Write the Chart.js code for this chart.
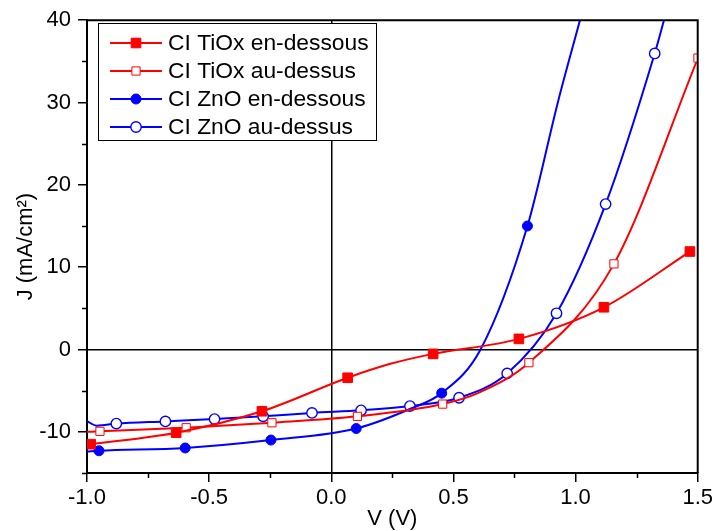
<!DOCTYPE html>
<html>
<head>
<meta charset="utf-8">
<script src="https://cdn.jsdelivr.net/npm/chart.js@4/dist/chart.umd.min.js"></script>
<style>
  html, body { margin: 0; padding: 0; background: #fff; }
</style>
</head>
<body>
<canvas id="chartJV" width="716" height="531"></canvas>
<script>
const seriesNames = ['CI TiOx en-dessous', 'CI TiOx au-dessus', 'CI ZnO en-dessous', 'CI ZnO au-dessus'];

const tioxBelowV = [-0.985, -0.635, -0.284, 0.067, 0.242, 0.417, 0.768, 1.116, 1.468];
const tioxBelowJ = [-11.5, -10.1, -7.5, -3.43, -1.74, -0.53, 1.29, 5.13, 11.9];

const tioxAboveV = [-1.0, -0.947, -0.594, -0.243, 0.107, 0.456, 0.6, 0.809, 1.157, 1.501];
const tioxAboveJ = [-10.0, -9.94, -9.5, -8.9, -8.12, -6.63, -5.3, -1.6, 10.4, 35.4];

const znoBelowV = [-1.0, -0.951, -0.598, -0.247, 0.102, 0.324, 0.452, 0.611, 0.803, 0.929, 1.018];
const znoBelowJ = [-12.4, -12.3, -11.96, -11.0, -9.6, -7.2, -5.3, 0.0, 15.0, 30.2, 40.0];

const znoAboveV = [-1.0, -0.96, -0.88, -0.679, -0.478, -0.279, -0.079, 0.122, 0.322, 0.523, 0.72, 0.922, 1.123, 1.324, 1.362];
const znoAboveJ = [-8.7, -9.25, -9.0, -8.73, -8.45, -8.12, -7.7, -7.39, -6.87, -5.86, -2.9, 4.4, 17.66, 35.96, 40.0];

const xMajorTicks = [-1.0, -0.5, 0.0, 0.5, 1.0, 1.5];
const yMajorTicks = [-10, 0, 10, 20, 30, 40];

// points portant un symbole (indices)
const tioxBelowMarks = [0, 1, 2, 3, 5, 6, 7, 8];
const tioxAboveMarks = [1, 2, 3, 4, 5, 7, 8, 9];
const znoBelowMarks = [1, 2, 3, 4, 6, 8];
const znoAboveMarks = [2, 3, 4, 5, 6, 7, 8, 9, 10, 11, 12, 13];

const RED = '#ff0000';
const BLUE = '#0000ff';
const FONT = 'Arial, "Liberation Sans", sans-serif';

const styles = [
    { color: RED, shape: 'rect', filled: true, radius: 6.8, border: 1 },
    { color: RED, shape: 'rect', filled: false, radius: 5.8, border: 1 },
    { color: BLUE, shape: 'circle', filled: true, radius: 5, border: 1 },
    { color: BLUE, shape: 'circle', filled: false, radius: 5.2, border: 1.4 }
];

function toPoints(vs, js) {
    return vs.map((v, i) => ({ x: v, y: js[i] }));
}

function makeDataset(index, vs, js, marks) {
    const st = styles[index];
    return {
        label: seriesNames[index],
        data: toPoints(vs, js),
        borderColor: st.color,
        borderWidth: 2,
        cubicInterpolationMode: 'monotone',
        pointStyle: st.shape,
        pointRadius: ctx => marks.includes(ctx.dataIndex) ? st.radius : 0,
        pointHoverRadius: 0,
        pointBackgroundColor: st.filled ? st.color : '#ffffff',
        pointBorderColor: st.color,
        pointBorderWidth: st.border,
        clip: 0
    };
}

// petites graduations, cadre et légende
const extrasPlugin = {
    id: 'extras',
    afterDraw(chart) {
        const ctx = chart.ctx;
        const area = chart.chartArea;
        const xs = chart.scales.x;
        const ys = chart.scales.y;
        ctx.save();
        ctx.strokeStyle = '#000';
        ctx.lineWidth = 1.5;
        ctx.beginPath();
        xs.ticks.forEach(t => {
            if (!xMajorTicks.some(m => Math.abs(m - t.value) < 1e-6)) {
                const px = Math.round(xs.getPixelForValue(t.value)) + 0.5;
                ctx.moveTo(px, area.bottom);
                ctx.lineTo(px, area.bottom + 5);
            }
        });
        ys.ticks.forEach(t => {
            if (!yMajorTicks.includes(t.value)) {
                const py = Math.round(ys.getPixelForValue(t.value)) + 0.5;
                ctx.moveTo(area.left, py);
                ctx.lineTo(area.left - 5, py);
            }
        });
        ctx.stroke();

        // cadre haut et droite
        ctx.lineWidth = 2;
        ctx.beginPath();
        ctx.moveTo(area.left, area.top);
        ctx.lineTo(area.right, area.top);
        ctx.lineTo(area.right, area.bottom);
        ctx.stroke();

        // légende
        const box = { x: 98.5, y: 23.5, w: 278, h: 117 };
        ctx.fillStyle = '#fff';
        ctx.fillRect(box.x, box.y, box.w, box.h);
        ctx.lineWidth = 1;
        ctx.strokeStyle = '#000';
        ctx.strokeRect(box.x, box.y, box.w, box.h);
        ctx.font = '22.8px ' + FONT;
        ctx.textBaseline = 'middle';
        seriesNames.forEach((name, i) => {
            const st = styles[i];
            const y = 43 + i * 28;
            ctx.strokeStyle = st.color;
            ctx.lineWidth = 2;
            ctx.beginPath();
            ctx.moveTo(110, y);
            ctx.lineTo(162, y);
            ctx.stroke();
            ctx.fillStyle = st.filled ? st.color : '#fff';
            ctx.lineWidth = st.border;
            ctx.beginPath();
            if (st.shape === 'rect') {
                const s = st.radius * Math.SQRT1_2;
                ctx.rect(136 - s, y - s, 2 * s, 2 * s);
            } else {
                ctx.arc(136, y, st.radius, 0, Math.PI * 2);
            }
            ctx.fill();
            ctx.stroke();
            ctx.fillStyle = '#000';
            ctx.fillText(name, 168, y + 1);
        });
        ctx.restore();
    }
};

const tickFont = { family: FONT, size: 22 };

new Chart(document.getElementById('chartJV'), {
    type: 'line',
    data: {
        datasets: [
            makeDataset(0, tioxBelowV, tioxBelowJ, tioxBelowMarks),
            makeDataset(1, tioxAboveV, tioxAboveJ, tioxAboveMarks),
            makeDataset(2, znoBelowV, znoBelowJ, znoBelowMarks),
            makeDataset(3, znoAboveV, znoAboveJ, znoAboveMarks)
        ]
    },
    options: {
        responsive: false,
        animation: false,
        layout: { padding: { top: 19, right: 18, left: 0, bottom: 0 } },
        plugins: {
            legend: { display: false },
            tooltip: { enabled: false }
        },
        scales: {
            x: {
                type: 'linear',
                min: -1.0,
                max: 1.5,
                afterFit: scale => { scale.height = 58; },
                ticks: {
                    stepSize: 0.25,
                    autoSkip: false,
                    maxRotation: 0,
                    padding: 3,
                    color: '#000',
                    font: tickFont,
                    callback: v => xMajorTicks.some(m => Math.abs(m - v) < 1e-6) ? v.toFixed(1) : ''
                },
                grid: {
                    drawTicks: true,
                    tickLength: 9,
                    lineWidth: 1.5,
                    color: c => (c.tick && Math.abs(c.tick.value) < 1e-6) ? '#000' : 'rgba(0,0,0,0)',
                    tickColor: c => (c.tick && xMajorTicks.some(m => Math.abs(m - c.tick.value) < 1e-6)) ? '#000' : 'rgba(0,0,0,0)',
                    tickWidth: 1.5
                },
                border: { color: '#000', width: 2 },
                title: {
                    display: true,
                    text: 'V (V)',
                    color: '#000',
                    font: tickFont,
                    padding: { top: 0, bottom: -1.5 }
                }
            },
            y: {
                type: 'linear',
                min: -15,
                max: 40,
                afterFit: scale => { scale.width = 87; },
                ticks: {
                    stepSize: 5,
                    autoSkip: false,
                    padding: 7,
                    color: '#000',
                    font: tickFont,
                    callback: v => yMajorTicks.includes(v) ? String(v) : ''
                },
                grid: {
                    drawTicks: true,
                    tickLength: 9,
                    lineWidth: 1.5,
                    color: c => (c.tick && c.tick.value === 0) ? '#000' : 'rgba(0,0,0,0)',
                    tickColor: c => (c.tick && yMajorTicks.includes(c.tick.value)) ? '#000' : 'rgba(0,0,0,0)',
                    tickWidth: 1.5
                },
                border: { color: '#000', width: 2 },
                title: {
                    display: true,
                    text: 'J (mA/cm²)',
                    color: '#000',
                    font: tickFont,
                    padding: { top: 12.5, bottom: 0 }
                }
            }
        }
    },
    plugins: [extrasPlugin]
});
</script>
</body>
</html>
